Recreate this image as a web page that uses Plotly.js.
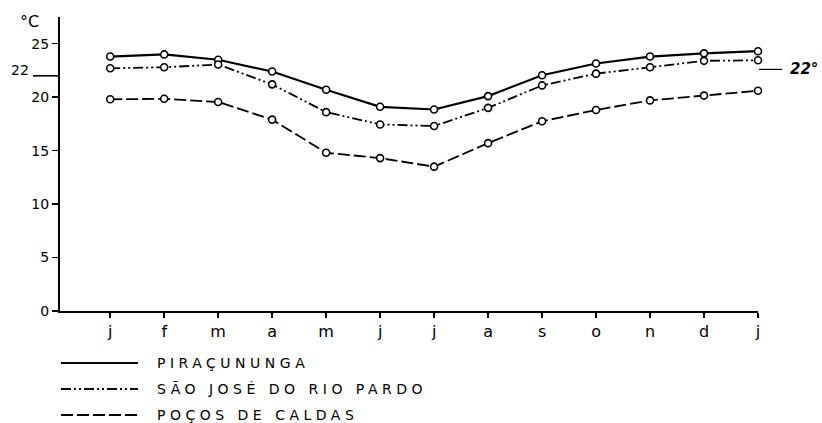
<!DOCTYPE html>
<html>
<head>
<meta charset="utf-8">
<script src="https://cdn.plot.ly/plotly-3.0.1.min.js"></script>
<style>
html,body{margin:0;padding:0;background:#fff;}
#chart{width:822px;height:423px;}
</style>
</head>
<body>
<div id="chart"></div>
<script>
// ---- data ----
const months = ["j","f","m","a","m","j","j","a","s","o","n","d","j"];
const piracununga = [23.8, 24.0, 23.5, 22.4, 20.7, 19.1, 18.85, 20.1, 22.05, 23.15, 23.8, 24.1, 24.3];
const saoJose     = [22.7, 22.8, 23.05, 21.2, 18.6, 17.45, 17.3, 19.0, 21.1, 22.2, 22.8, 23.4, 23.45];
const pocosCaldas = [19.8, 19.85, 19.55, 17.9, 14.8, 14.3, 13.5, 15.7, 17.75, 18.8, 19.7, 20.15, 20.6];
const seriesNames = ["PIRAÇUNUNGA", "SÃO JOSÉ DO RIO PARDO", "POÇOS DE CALDAS"];
const yTicks = [0, 5, 10, 15, 20, 25];
const refValue = 22;
const unitLabel = "°C";

// ---- layout geometry ----
const W = 822, H = 423;
const M = {l: 60, r: 64, t: 17, b: 112};
const PW = W - M.l - M.r, PH = H - M.t - M.b;
const px = x => (x - M.l) / PW;          // pixel -> paper x
const py = y => (H - M.b - y) / PH;      // pixel -> paper y

const idx = months.map((_, i) => i);
const styles = [
  {dash: "solid", width: 2.2},
  {dash: "10px,3px,2px,3px,2px,3px", width: 1.8},
  {dash: "12px,4px", width: 1.8}
];
const values = [piracununga, saoJose, pocosCaldas];

const traces = values.map((v, k) => ({
  x: idx, y: v, type: "scatter", mode: "lines+markers",
  name: seriesNames[k],
  line: {color: "#000", width: styles[k].width, dash: styles[k].dash},
  marker: {symbol: "circle", size: 7, color: "#fff", line: {color: "#000", width: 1.6}},
  showlegend: false, cliponaxis: false
}));

const shapes = [];
const annotations = [];
const FONT = "DejaVu Sans, Liberation Sans, sans-serif";

// legend built from the series
const legRows = [363, 389, 415];
seriesNames.forEach((n, k) => {
  shapes.push({type: "line", xref: "paper", yref: "paper",
    x0: px(61), x1: px(138), y0: py(legRows[k]), y1: py(legRows[k]),
    line: {color: "#000", width: 1.8, dash: styles[k].dash}});
  annotations.push({xref: "paper", yref: "paper", x: px(155), y: py(legRows[k]),
    xanchor: "left", yanchor: "middle", showarrow: false, text: n,
    font: {family: FONT, size: 14, color: "#000"}, captureevents: false});
});

// "22" tick on the left
shapes.push({type: "line", xref: "paper", yref: "y", x0: px(33), x1: px(60), y0: refValue, y1: refValue,
  line: {color: "#000", width: 1.6}});
annotations.push({xref: "paper", yref: "y", x: px(31), y: refValue, xanchor: "right", yanchor: "bottom",
  showarrow: false, text: String(refValue), font: {family: FONT, size: 14, color: "#000"}, yshift: -4});
// unit label
annotations.push({xref: "paper", yref: "paper", x: px(29), y: py(21), xanchor: "center", yanchor: "middle",
  showarrow: false, text: unitLabel, font: {family: FONT, size: 16, color: "#000"}});
// right "22°" mark
shapes.push({type: "line", xref: "paper", yref: "y", x0: px(759), x1: px(782), y0: refValue + 0.6, y1: refValue + 0.6,
  line: {color: "#000", width: 1.2}});
annotations.push({xref: "paper", yref: "y", x: px(788), y: refValue + 0.6, xanchor: "left", yanchor: "middle",
  showarrow: false, text: "<i><b>" + refValue + "°</b></i>", font: {family: FONT, size: 15, color: "#000"}});

const layout = {
  width: W, height: H,
  margin: M,
  paper_bgcolor: "#fff", plot_bgcolor: "#fff",
  font: {family: FONT, color: "#000"},
  showlegend: false,
  xaxis: {
    range: [-0.93, 12], tickmode: "array", tickvals: idx, ticktext: months,
    showgrid: false, zeroline: false, showline: true, linecolor: "#000", linewidth: 2,
    ticks: "outside", ticklen: 5, tickwidth: 1.5, tickcolor: "#000",
    tickfont: {family: FONT, size: 16, color: "#000"}, fixedrange: true
  },
  yaxis: {
    range: [0, 27.5], tickmode: "array", tickvals: yTicks, ticktext: yTicks.map(String),
    showgrid: false, zeroline: false, showline: true, linecolor: "#000", linewidth: 2,
    ticks: "outside", ticklen: 6, tickwidth: 1.5, tickcolor: "#000",
    tickfont: {family: FONT, size: 14, color: "#000"}, fixedrange: true
  },
  shapes: shapes,
  annotations: annotations
};

Plotly.newPlot("chart", traces, layout, {staticPlot: true, displayModeBar: false}).then(() => {
  // widen the legend lettering, keeping its left edge in place
  document.querySelectorAll("g.annotation").forEach(g => {
    const i = +g.getAttribute("data-index");
    if (i < seriesNames.length) {
      const t = g.querySelector("text.annotation-text");
      if (!t) return;
      const bb = t.getBBox();
      t.setAttribute("text-anchor", "start");
      t.setAttribute("x", bb.x);
      t.style.letterSpacing = "4.5px";
    }
  });
});
</script>
</body>
</html>
